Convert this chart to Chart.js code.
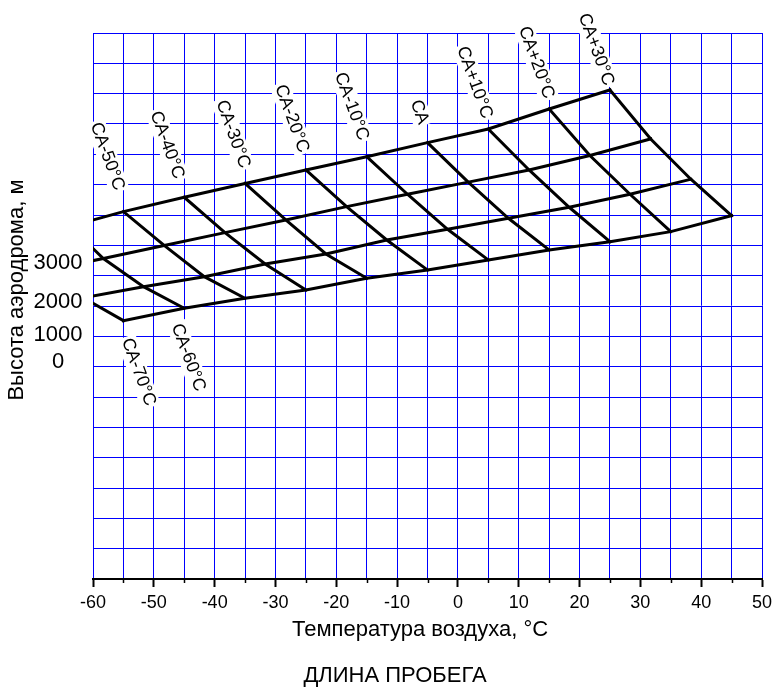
<!DOCTYPE html>
<html>
<head>
<meta charset="utf-8">
<script src="https://cdn.jsdelivr.net/npm/chart.js@4/dist/chart.umd.min.js"></script>
<style>
  html, body { margin: 0; padding: 0; background: #fff; }
  #wrap { width: 780px; height: 691px; position: relative; }
</style>
</head>
<body>
<div id="wrap"><canvas id="chart"></canvas></div>
<script>
// Air temperature axis, °C
const tempMin = -60, tempMax = 50;
// Height of the plot, in grid cells
const cellsMin = 0, cellsMax = 18;

// Isotherms (standard atmosphere offsets), coldest first
const isotherms = ['СА-70°C', 'СА-60°C', 'СА-50°C', 'СА-40°C', 'СА-30°C', 'СА-20°C',
                   'СА-10°C', 'СА', 'СА+10°C', 'СА+20°C', 'СА+30°C'];

// Where each isotherm crosses each aerodrome-altitude line:
// temperature (°C) and height (cells); null when the crossing lies outside the frame
const alt3000T = [null, null, -55, -45, -35, -25, -15, -5, 5, 15, 25];
const alt3000Y = [null, null, 12.11, 12.585, 13.04, 13.485, 13.923, 14.385, 14.837, 15.496, 16.123];
const alt2000T = [null, -58.3, -48.3, -38.3, -28.3, -18.3, -8.3, 1.7, 11.7, 21.7, 31.7];
const alt2000Y = [null, 10.567, 10.996, 11.418, 11.837, 12.275, 12.684, 13.083, 13.485, 13.963, 14.507];
const alt1000T = [null, -51.7, -41.7, -31.7, -21.7, -11.7, -1.7, 8.3, 18.3, 28.3, 38.3];
const alt1000Y = [null, 9.637, 9.967, 10.386, 10.715, 11.177, 11.530, 11.893, 12.255, 12.684, 13.179];
const alt0T = [-55, -45, -35, -25, -15, -5, 5, 15, 25, 35, 45];
const alt0Y = [8.516, 8.925, 9.255, 9.528, 9.914, 10.188, 10.518, 10.847, 11.121, 11.451, 11.978];

// Heights where lines run out through the left edge of the frame (-60 °C)
const altEdgeY = [11.836, 10.495, 9.331, null];               // 3000, 2000, 1000, 0
const isoEdgeY = [9.090, 10.897, null, null, null, null, null, null, null, null, null];

// Altitude tick labels on the left side
const altTickLabels = ['3000', '2000', '1000', '0'];
const altTickY = [10.435, 9.15, 8.045, 7.155];

// ---------------------------------------------------------------------------
const FONT = '"Liberation Sans", Arial, Helvetica, sans-serif';
const GRID_BLUE = '#0000ff';

// Label placement of each isotherm name, pixels from its end vertex
const labelOffsets = [[3, 18], [-8, 16], [-4, -22], [-5, -19], [0, -16], [-2, -18],
                      [-3, -17], [-4, -19], [-1, -11], [0, -11], [-1, -5]];
const labelAngle = 70 * Math.PI / 180;

const altLines = [[alt3000T, alt3000Y], [alt2000T, alt2000Y], [alt1000T, alt1000Y], [alt0T, alt0Y]];

const lineStyle = {
  showLine: true, borderColor: '#000', borderWidth: 3, pointRadius: 0, pointHoverRadius: 0,
  fill: false, tension: 0, borderCapStyle: 'square', borderJoinStyle: 'miter'
};

const datasets = [];
altLines.forEach(([T, Y], j) => {
  const pts = [];
  if (altEdgeY[j] != null) pts.push({ x: tempMin, y: altEdgeY[j] });
  T.forEach((t, k) => { if (t != null) pts.push({ x: t, y: Y[k] }); });
  datasets.push({ label: 'alt-' + altTickLabels[j], data: pts, ...lineStyle });
});
isotherms.forEach((name, k) => {
  const pts = [];
  if (isoEdgeY[k] != null) pts.push({ x: tempMin, y: isoEdgeY[k] });
  altLines.forEach(([T, Y]) => { if (T[k] != null) pts.push({ x: T[k], y: Y[k] }); });
  datasets.push({ label: name, data: pts, ...lineStyle });
});

// Small marks for the 5-degree ticks between labelled ones
const minorTicks = {
  id: 'minorTicks',
  afterDraw(chart) {
    const ctx = chart.ctx, xs = chart.scales.x, bottom = chart.chartArea.bottom;
    ctx.save();
    ctx.strokeStyle = '#000';
    ctx.lineWidth = 1.5;
    xs.ticks.forEach(t => {
      if (t.value % 10 !== 0) {
        const px = Math.round(xs.getPixelForValue(t.value)) + 0.5;
        ctx.beginPath(); ctx.moveTo(px, bottom); ctx.lineTo(px, bottom + 4); ctx.stroke();
      }
    });
    ctx.restore();
  }
};

// Isotherm names on white plates, titles and altitude labels
const annotations = {
  id: 'annotations',
  afterDraw(chart) {
    const ctx = chart.ctx, xs = chart.scales.x, ys = chart.scales.y;
    ctx.save();
    ctx.font = '18px ' + FONT;
    ctx.fillStyle = '#000';
    isotherms.forEach((name, k) => {
      const onTop = alt3000T[k] != null;
      const vx = xs.getPixelForValue(onTop ? alt3000T[k] : alt0T[k]);
      const vy = ys.getPixelForValue(onTop ? alt3000Y[k] : alt0Y[k]);
      const [dx, dy] = labelOffsets[k];
      const w = ctx.measureText(name).width;
      const h = 18;
      ctx.save();
      ctx.translate(vx + dx, vy + dy);
      ctx.rotate(labelAngle);
      ctx.fillStyle = '#fff';
      if (onTop) ctx.fillRect(-w - 2, -h / 2 - 1, w + 4, h + 2);
      else ctx.fillRect(-2, -h / 2 - 1, w + 4, h + 2);
      ctx.fillStyle = '#000';
      ctx.textBaseline = 'middle';
      ctx.textAlign = onTop ? 'right' : 'left';
      ctx.fillText(name, 0, 0);
      ctx.restore();
    });

    // altitude labels
    ctx.font = '22px ' + FONT;
    ctx.textAlign = 'center';
    ctx.textBaseline = 'middle';
    altTickLabels.forEach((lab, i) => ctx.fillText(lab, 58, ys.getPixelForValue(altTickY[i])));

    // axis titles and caption
    ctx.font = '22px ' + FONT;
    ctx.textBaseline = 'alphabetic';
    ctx.fillText('Температура воздуха, °C', 420, 636);
    ctx.fillText('ДЛИНА ПРОБЕГА', 395, 682);

    ctx.save();
    ctx.translate(23, 290);
    ctx.rotate(-Math.PI / 2);
    ctx.font = '22px ' + FONT;
    ctx.fillText('Высота аэродрома, м', 0, 0);
    ctx.restore();
    ctx.restore();
  }
};

new Chart(document.getElementById('chart'), {
  type: 'scatter',
  data: { datasets },
  options: {
    responsive: true,
    maintainAspectRatio: false,
    animation: false,
    layout: { padding: { left: 0, top: 33, right: 18, bottom: 0 } },
    plugins: { legend: { display: false }, tooltip: { enabled: false } },
    scales: {
      x: {
        type: 'linear', min: tempMin, max: tempMax,
        ticks: {
          stepSize: 5, autoSkip: false, maxRotation: 0, padding: 5, color: '#000',
          font: { family: FONT, size: 18 },
          callback: v => (v % 10 === 0 ? String(v) : '')
        },
        grid: {
          color: GRID_BLUE, lineWidth: 1, drawTicks: true, tickLength: 8, tickWidth: 2,
          tickColor: c => (c.tick && c.tick.value % 10 === 0 ? '#000' : 'rgba(0,0,0,0)')
        },
        border: { display: true, color: '#000', width: 2 },
        afterFit: s => { s.height = 112; }
      },
      y: {
        type: 'linear', min: cellsMin, max: cellsMax,
        ticks: { stepSize: 1, display: false },
        grid: {
          color: c => (c.tick && c.tick.value === cellsMin ? 'rgba(0,0,0,0)' : GRID_BLUE),
          lineWidth: 1, drawTicks: false
        },
        border: { display: false },
        afterFit: s => { s.width = 93; }
      }
    }
  },
  plugins: [minorTicks, annotations]
});
</script>
</body>
</html>
